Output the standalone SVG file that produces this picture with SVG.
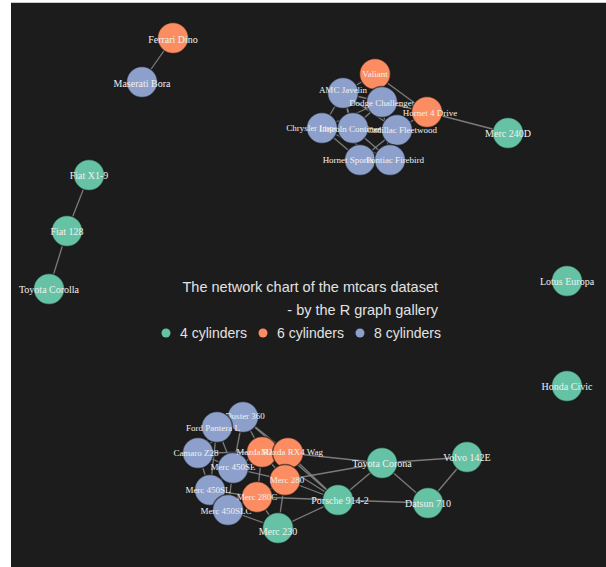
<svg xmlns="http://www.w3.org/2000/svg" width="606" height="567" viewBox="0 0 606 567">
<style>
.e{stroke:#8c8c8c;stroke-width:1.3;stroke-opacity:0.85;fill:none}
.n{stroke:#111;stroke-width:1.5;stroke-opacity:0.6}
.g{fill:#66c2a5}.o{fill:#fc8d62}.p{fill:#8da0cb}
.l{font-family:"Liberation Serif","Times New Roman",serif;font-size:10px;fill:#f0f0f0;text-anchor:middle;dominant-baseline:central}
.s{font-size:9px}
.t{font-family:"Liberation Sans",Arial,sans-serif;fill:#e2e2e2}
</style>
<rect x="0" y="0" width="606" height="567" fill="#ffffff"/>
<rect x="11" y="3" width="595" height="564" fill="#1c1c1c"/>
<line x1="11" y1="2.5" x2="606" y2="2.5" stroke="#c8c8c8" stroke-width="1"/>
<g id="connectors">
<line class="e" x1="173" y1="38" x2="142" y2="82"/>
<line class="e" x1="89" y1="175" x2="67" y2="231"/>
<line class="e" x1="67" y1="231" x2="49" y2="289"/>
<line class="e" x1="427" y1="112" x2="508" y2="133"/>
<line class="e" x1="375" y1="74" x2="343" y2="93"/>
<line class="e" x1="375" y1="74" x2="382" y2="102"/>
<line class="e" x1="375" y1="74" x2="427" y2="112"/>
<line class="e" x1="343" y1="93" x2="382" y2="102"/>
<line class="e" x1="343" y1="93" x2="322" y2="128"/>
<line class="e" x1="343" y1="93" x2="353" y2="128"/>
<line class="e" x1="343" y1="93" x2="397" y2="130"/>
<line class="e" x1="343" y1="93" x2="360" y2="160"/>
<line class="e" x1="382" y1="102" x2="353" y2="128"/>
<line class="e" x1="382" y1="102" x2="397" y2="130"/>
<line class="e" x1="382" y1="102" x2="427" y2="112"/>
<line class="e" x1="382" y1="102" x2="322" y2="128"/>
<line class="e" x1="382" y1="102" x2="390" y2="160"/>
<line class="e" x1="322" y1="128" x2="353" y2="128"/>
<line class="e" x1="322" y1="128" x2="360" y2="160"/>
<line class="e" x1="322" y1="128" x2="390" y2="160"/>
<line class="e" x1="353" y1="128" x2="397" y2="130"/>
<line class="e" x1="353" y1="128" x2="360" y2="160"/>
<line class="e" x1="353" y1="128" x2="390" y2="160"/>
<line class="e" x1="397" y1="130" x2="390" y2="160"/>
<line class="e" x1="397" y1="130" x2="360" y2="160"/>
<line class="e" x1="360" y1="160" x2="390" y2="160"/>
<line class="e" x1="427" y1="112" x2="397" y2="130"/>
<line class="e" x1="243" y1="417" x2="217" y2="427"/>
<line class="e" x1="243" y1="417" x2="198" y2="453"/>
<line class="e" x1="243" y1="417" x2="233" y2="468"/>
<line class="e" x1="243" y1="417" x2="262" y2="452"/>
<line class="e" x1="243" y1="417" x2="288" y2="453"/>
<line class="e" x1="243" y1="417" x2="338" y2="500"/>
<line class="e" x1="217" y1="427" x2="198" y2="453"/>
<line class="e" x1="217" y1="427" x2="233" y2="468"/>
<line class="e" x1="217" y1="427" x2="210" y2="490"/>
<line class="e" x1="198" y1="453" x2="233" y2="468"/>
<line class="e" x1="198" y1="453" x2="210" y2="490"/>
<line class="e" x1="198" y1="453" x2="262" y2="452"/>
<line class="e" x1="233" y1="468" x2="210" y2="490"/>
<line class="e" x1="233" y1="468" x2="228" y2="510"/>
<line class="e" x1="210" y1="490" x2="228" y2="510"/>
<line class="e" x1="233" y1="468" x2="262" y2="452"/>
<line class="e" x1="233" y1="468" x2="285" y2="480"/>
<line class="e" x1="228" y1="510" x2="257" y2="497"/>
<line class="e" x1="210" y1="490" x2="257" y2="497"/>
<line class="e" x1="262" y1="452" x2="288" y2="453"/>
<line class="e" x1="262" y1="452" x2="285" y2="480"/>
<line class="e" x1="288" y1="453" x2="285" y2="480"/>
<line class="e" x1="285" y1="480" x2="257" y2="497"/>
<line class="e" x1="262" y1="452" x2="257" y2="497"/>
<line class="e" x1="288" y1="453" x2="382" y2="463"/>
<line class="e" x1="285" y1="480" x2="382" y2="463"/>
<line class="e" x1="288" y1="453" x2="338" y2="500"/>
<line class="e" x1="285" y1="480" x2="338" y2="500"/>
<line class="e" x1="257" y1="497" x2="338" y2="500"/>
<line class="e" x1="262" y1="452" x2="338" y2="500"/>
<line class="e" x1="257" y1="497" x2="278" y2="528"/>
<line class="e" x1="285" y1="480" x2="278" y2="528"/>
<line class="e" x1="228" y1="510" x2="278" y2="528"/>
<line class="e" x1="278" y1="528" x2="338" y2="500"/>
<line class="e" x1="338" y1="500" x2="382" y2="463"/>
<line class="e" x1="338" y1="500" x2="428" y2="503"/>
<line class="e" x1="382" y1="463" x2="428" y2="503"/>
<line class="e" x1="382" y1="463" x2="467" y2="457"/>
<line class="e" x1="467" y1="457" x2="428" y2="503"/>
</g>
<g id="title">
<text class="t" x="438" y="292" font-size="14.5" text-anchor="end">The network chart of the mtcars dataset</text>
<text class="t" x="438" y="315" font-size="14.5" text-anchor="end">- by the R graph gallery</text>
</g>
<g id="legend">
<circle cx="166" cy="333" r="4.5" class="g"/>
<text class="t" x="180" y="338" font-size="14">4 cylinders</text>
<circle cx="263" cy="333" r="4.5" class="o"/>
<text class="t" x="277" y="338" font-size="14">6 cylinders</text>
<circle cx="360" cy="333" r="4.5" class="p"/>
<text class="t" x="374" y="338" font-size="14">8 cylinders</text>
</g>
<g id="n-ferrari"><circle class="n o" cx="173" cy="38" r="15.5"/><text class="l" x="173" y="39">Ferrari Dino</text></g>
<g id="n-maserati"><circle class="n p" cx="142" cy="82" r="15.5"/><text class="l" x="142" y="83">Maserati Bora</text></g>
<g id="n-fiatx19"><circle class="n g" cx="89" cy="175" r="15.5"/><text class="l" x="89" y="175">Fiat X1-9</text></g>
<g id="n-fiat128"><circle class="n g" cx="67" cy="231" r="15.5"/><text class="l" x="67" y="231">Fiat 128</text></g>
<g id="n-corolla"><circle class="n g" cx="49" cy="289" r="15.5"/><text class="l" x="49" y="289">Toyota Corolla</text></g>
<g id="n-valiant"><circle class="n o" cx="375" cy="74" r="15.5"/><text class="l s" x="375" y="74">Valiant</text></g>
<g id="n-amc"><circle class="n p" cx="343" cy="93" r="15.5"/><text class="l s" x="343" y="90">AMC Javelin</text></g>
<g id="n-dodge"><circle class="n p" cx="382" cy="102" r="15.5"/><text class="l s" x="382" y="103">Dodge Challenger</text></g>
<g id="n-hornet4"><circle class="n o" cx="427" cy="112" r="15.5"/><text class="l s" x="430" y="113">Hornet 4 Drive</text></g>
<g id="n-merc240d"><circle class="n g" cx="508" cy="133" r="15.5"/><text class="l" x="508" y="133">Merc 240D</text></g>
<g id="n-chrysler"><circle class="n p" cx="322" cy="128" r="15.5"/><text class="l s" x="318" y="128">Chrysler Imperial</text></g>
<g id="n-lincoln"><circle class="n p" cx="353" cy="128" r="15.5"/><text class="l s" x="355" y="129">Lincoln Continental</text></g>
<g id="n-cadillac"><circle class="n p" cx="397" cy="130" r="15.5"/><text class="l s" x="402" y="130">Cadillac Fleetwood</text></g>
<g id="n-hsport"><circle class="n p" cx="360" cy="160" r="15.5"/><text class="l s" x="356" y="160">Hornet Sportabout</text></g>
<g id="n-firebird"><circle class="n p" cx="390" cy="160" r="15.5"/><text class="l s" x="395" y="160">Pontiac Firebird</text></g>
<g id="n-lotus"><circle class="n g" cx="567" cy="281" r="15.5"/><text class="l" x="567" y="281">Lotus Europa</text></g>
<g id="n-civic"><circle class="n g" cx="567" cy="386" r="15.5"/><text class="l" x="567" y="386">Honda Civic</text></g>
<g id="n-duster"><circle class="n p" cx="243" cy="417" r="15.5"/><text class="l s" x="245" y="416">Duster 360</text></g>
<g id="n-pantera"><circle class="n p" cx="217" cy="427" r="15.5"/><text class="l s" x="213" y="428">Ford Pantera L</text></g>
<g id="n-camaro"><circle class="n p" cx="198" cy="453" r="15.5"/><text class="l s" x="196" y="453">Camaro Z28</text></g>
<g id="n-m450se"><circle class="n p" cx="233" cy="468" r="15.5"/><text class="l s" x="233" y="467">Merc 450SE</text></g>
<g id="n-m450sl"><circle class="n p" cx="210" cy="490" r="15.5"/><text class="l s" x="208" y="490">Merc 450SL</text></g>
<g id="n-m450slc"><circle class="n p" cx="228" cy="510" r="15.5"/><text class="l s" x="226" y="511">Merc 450SLC</text></g>
<g id="n-rx4"><circle class="n o" cx="262" cy="452" r="15.5"/><text class="l s" x="258" y="452">Mazda RX4</text></g>
<g id="n-rx4wag"><circle class="n o" cx="288" cy="453" r="15.5"/><text class="l s" x="292" y="452">Mazda RX4 Wag</text></g>
<g id="n-m280"><circle class="n o" cx="285" cy="480" r="15.5"/><text class="l s" x="287" y="480">Merc 280</text></g>
<g id="n-m280c"><circle class="n o" cx="257" cy="497" r="15.5"/><text class="l s" x="257" y="497">Merc 280C</text></g>
<g id="n-porsche"><circle class="n g" cx="338" cy="500" r="15.5"/><text class="l" x="340" y="500">Porsche 914-2</text></g>
<g id="n-merc230"><circle class="n g" cx="278" cy="528" r="15.5"/><text class="l" x="278" y="531">Merc 230</text></g>
<g id="n-corona"><circle class="n g" cx="382" cy="463" r="15.5"/><text class="l" x="382" y="463">Toyota Corona</text></g>
<g id="n-volvo"><circle class="n g" cx="467" cy="457" r="15.5"/><text class="l" x="467" y="457">Volvo 142E</text></g>
<g id="n-datsun"><circle class="n g" cx="428" cy="503" r="15.5"/><text class="l" x="428" y="503">Datsun 710</text></g>
</svg>
